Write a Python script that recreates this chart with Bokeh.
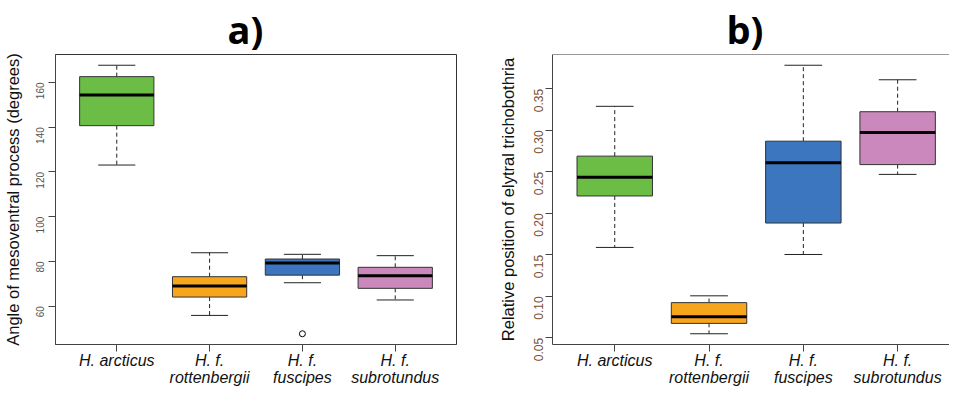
import math
from bokeh.plotting import figure
from bokeh.layouts import row
from bokeh.models import FixedTicker, Range1d, PrintfTickFormatter, Span
from bokeh.embed import file_html
from bokeh.resources import INLINE

# ---------------- data ----------------
species = ["H. arcticus", "H. f.\nrottenbergii", "H. f.\nfuscipes", "H. f.\nsubrotundus"]
colors = ["#6BBD45", "#F8A51E", "#3C76BE", "#CB88BC"]

# panel a) angle of mesoventral process (degrees)
a_lo = [123.1, 55.9, 70.5, 62.8]
a_q1 = [140.7, 64.1, 73.9, 68.0]
a_med = [154.4, 69.0, 79.3, 73.6]
a_q3 = [162.6, 73.2, 81.1, 77.4]
a_hi = [167.7, 83.9, 83.2, 82.6]
a_out_group = [3]
a_out_val = [47.7]
a_yticks = [60, 80, 100, 120, 140, 160]

# panel b) relative position of elytral trichobothria
b_lo = [0.159, 0.055, 0.1505, 0.247]
b_q1 = [0.221, 0.0675, 0.1884, 0.2588]
b_med = [0.2435, 0.0754, 0.2611, 0.2975]
b_q3 = [0.269, 0.0925, 0.287, 0.3225]
b_hi = [0.329, 0.1007, 0.3785, 0.361]
b_out_group = []
b_out_val = []
b_yticks = [0.05, 0.10, 0.15, 0.20, 0.25, 0.30, 0.35]

xs = list(range(1, len(species) + 1))
FIG_H = 394


def yrange(lo, hi, outs):
    vals = lo + hi + outs
    mn, mx = min(vals), max(vals)
    ext = 0.04 * (mx - mn)
    return mn - ext, mx + ext


def make_panel(title, ylabel, lo, q1, med, q3, hi, out_g, out_v, yticks,
               width, xr_end, borders, tick_size, tick_color, tick_standoff,
               fmt, title_offset, full_frame, ylab_standoff):
    y0, y1 = yrange(lo, hi, out_v)
    bl, br, bt, bb = borders
    p = figure(width=width, height=FIG_H, x_range=Range1d(0.34, xr_end),
               y_range=Range1d(y0, y1), output_backend="svg",
               toolbar_location=None, min_border_left=bl, min_border_right=br,
               min_border_top=bt, min_border_bottom=bb)
    p.grid.visible = False
    p.background_fill_color = "white"
    p.border_fill_color = "white"
    if full_frame:
        p.outline_line_color = "#333333"
    else:
        p.outline_line_color = None
        p.add_layout(Span(location=y1, dimension="width", line_color="#333333", line_width=1))

    # whiskers (dashed)
    p.segment(x0=xs, y0=q3, x1=xs, y1=hi, line_color="#222222", line_width=1, line_dash="4 3")
    p.segment(x0=xs, y0=q1, x1=xs, y1=lo, line_color="#222222", line_width=1, line_dash="4 3")
    # caps
    p.segment(x0=[x - 0.2 for x in xs], y0=hi, x1=[x + 0.2 for x in xs], y1=hi,
              line_color="#222222", line_width=1)
    p.segment(x0=[x - 0.2 for x in xs], y0=lo, x1=[x + 0.2 for x in xs], y1=lo,
              line_color="#222222", line_width=1)
    # boxes
    p.quad(left=[x - 0.4 for x in xs], right=[x + 0.4 for x in xs], bottom=q1, top=q3,
           fill_color=colors, line_color="#333333", line_width=1)
    # medians
    p.segment(x0=[x - 0.4 for x in xs], y0=med, x1=[x + 0.4 for x in xs], y1=med,
              line_color="black", line_width=3)
    # outliers
    if out_g:
        p.scatter(x=out_g, y=out_v, marker="circle", size=6, fill_color="white",
                  line_color="black", line_width=1)

    # x axis
    xa = p.below[0]
    xa.ticker = FixedTicker(ticks=xs)
    xa.major_label_overrides = {x: s for x, s in zip(xs, species)}
    xa.major_label_text_font = "Liberation Sans"
    xa.major_label_text_font_style = "italic"
    xa.major_label_text_font_size = "16px"
    xa.major_label_text_color = "#111111"
    xa.major_label_text_line_height = 1.0
    xa.major_label_standoff = 0
    xa.major_tick_out = 7
    xa.major_tick_in = 0
    xa.minor_tick_out = 0
    xa.minor_tick_in = 0
    xa.major_tick_line_color = "#444444"
    xa.axis_line_color = "#444444"

    # y axis
    ya = p.left[0]
    ya.ticker = FixedTicker(ticks=yticks)
    if fmt:
        ya.formatter = PrintfTickFormatter(format=fmt)
    ya.major_label_orientation = math.pi / 2
    ya.major_label_text_font = "Liberation Sans"
    ya.major_label_text_font_size = tick_size
    ya.major_label_text_color = tick_color
    ya.major_label_standoff = tick_standoff
    ya.major_tick_out = 7
    ya.major_tick_in = 0
    ya.minor_tick_out = 0
    ya.minor_tick_in = 0
    ya.major_tick_line_color = "#444444"
    ya.axis_line_color = "#444444"
    ya.axis_label = ylabel
    ya.axis_label_text_font = "Liberation Sans"
    ya.axis_label_text_font_style = "normal"
    ya.axis_label_text_font_size = "16.5px"
    ya.axis_label_text_color = "#111111"
    ya.axis_label_standoff = ylab_standoff

    # title
    p.title.text = title
    p.title.text_font = "Open Sans"
    p.title.text_font_style = "bold"
    p.title.text_font_size = "38px"
    p.title.text_color = "black"
    p.title.align = "left"
    p.title.offset = title_offset
    p.title.standoff = 0
    return p


pa = make_panel("a)", "Angle of mesoventral process (degrees)",
                a_lo, a_q1, a_med, a_q3, a_hi, a_out_group, a_out_val, a_yticks,
                width=482, xr_end=4.66, borders=(51, 26, 48, 47),
                tick_size="10px", tick_color="#555555", tick_standoff=8,
                fmt=None, title_offset=172, full_frame=True, ylab_standoff=8)

pb = make_panel("b)", "Relative position of elytral trichobothria",
                b_lo, b_q1, b_med, b_q3, b_hi, b_out_group, b_out_val, b_yticks,
                width=467, xr_end=0.34 + 397 / 94.3, borders=(70, 0, 45, 50),
                tick_size="12px", tick_color="#7a5030", tick_standoff=7,
                fmt="%.2f", title_offset=174, full_frame=False, ylab_standoff=10)

layout = row(pa, pb, spacing=0)
open("out.html", "w").write(file_html(layout, INLINE))
